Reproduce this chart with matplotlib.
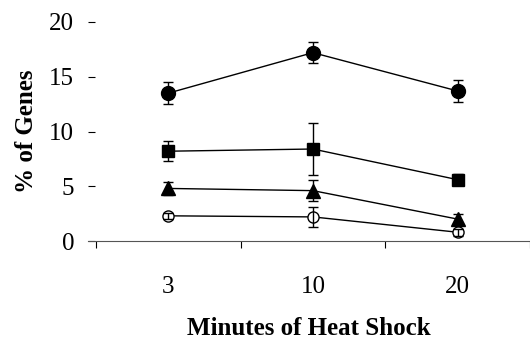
import matplotlib
matplotlib.use("Agg")
import matplotlib.pyplot as plt
import numpy as np

categories = ["3", "10", "20"]
circle_vals = [13.5, 17.2, 13.7]
circle_err = [1.0, 0.95, 1.0]
square_vals = [8.2, 8.4, 5.6]
square_err = [0.9, 2.4, 0.5]
triangle_vals = [4.8, 4.6, 2.0]
triangle_err = [0.6, 0.95, 0.5]
open_vals = [2.3, 2.2, 0.8]
open_err = [0.3, 0.9, 0.3]
yticks = [0, 5, 10, 15, 20]

plt.rcParams['font.family'] = ['Liberation Serif', 'DejaVu Serif']

fig = plt.figure(figsize=(5.3, 3.4), dpi=100)
ax = fig.add_axes([88/530, 99/340, 442/530, 219/340])

x = np.arange(len(categories))
common = dict(color='black', lw=1.0, elinewidth=1.0, capsize=3.5, capthick=1.0)
ax.errorbar(x, circle_vals, yerr=circle_err, fmt='-o', ms=10, mfc='black', mec='black', **common)
ax.errorbar(x, square_vals, yerr=square_err, fmt='-s', ms=9, mfc='black', mec='black', **common)
ax.errorbar(x, triangle_vals, yerr=triangle_err, fmt='-^', ms=9.5, mfc='black', mec='black', **common)
ax.plot(x, open_vals, '-o', ms=8, mfc='white', mec='black', color='black', lw=1.0, zorder=2)
ax.errorbar(x, open_vals, yerr=open_err, fmt='none', ecolor='black', elinewidth=1.0, capsize=3.5, capthick=1.0, zorder=3)

ax.set_xlim(-0.554, 2.452)
ax.set_ylim(0, 20)
ax.set_yticks(yticks)
ax.set_yticklabels([str(v) for v in yticks], fontsize=18)
ax.set_xticks(x)
ax.set_xticklabels(categories, fontsize=18)
ax.set_xticks([-0.5, 0.5, 1.5, 2.5], minor=True)
ax.tick_params(axis='x', which='major', length=0, pad=25)
ax.tick_params(axis='x', which='minor', length=5, width=0.8, direction='out')
ax.tick_params(axis='y', which='major', length=5, width=0.8, direction='in', pad=10)

for s in ['top', 'right', 'left']:
    ax.spines[s].set_visible(False)
ax.spines['bottom'].set_linewidth(0.8)
ax.spines['bottom'].set_color('#555555')

ax.set_xlabel("Minutes of Heat Shock", fontsize=18, fontweight='bold', labelpad=14)
ax.set_ylabel("% of Genes", fontsize=18, fontweight='bold', labelpad=8)

fig.savefig("out.png", dpi=100)
